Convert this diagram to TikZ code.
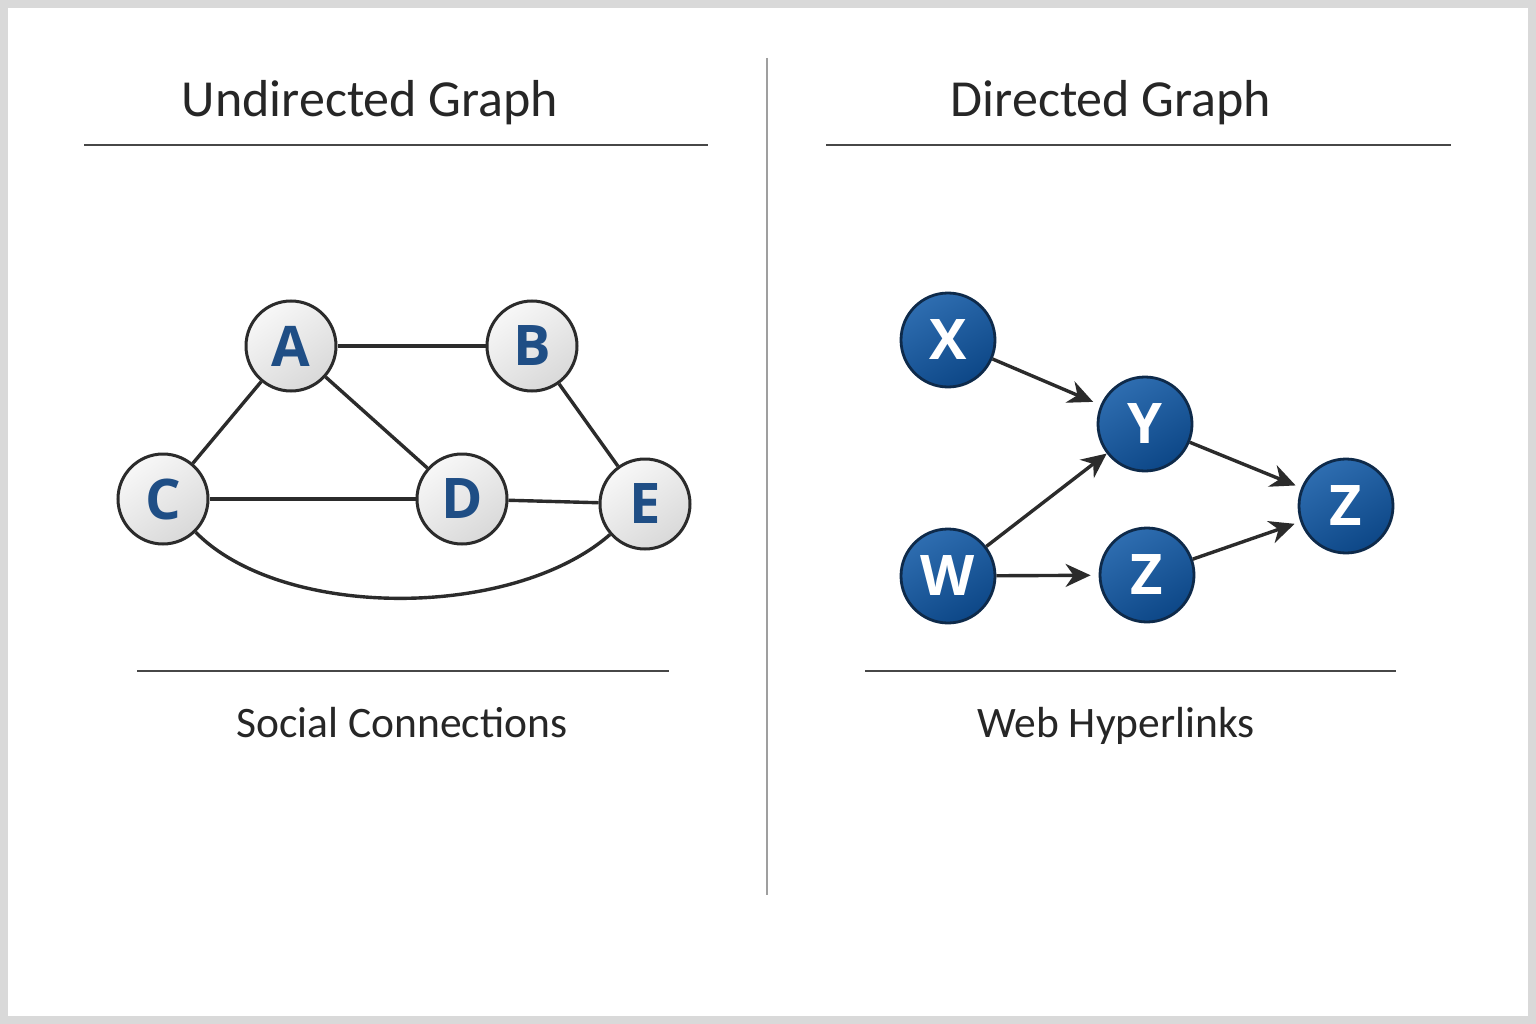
\documentclass[tikz,border=0pt]{standalone}
\usepackage{fontspec}
\setmainfont{Carlito}
\newfontfamily\nodefont{Open Sans}
\usetikzlibrary{arrows.meta}
\definecolor{ink}{HTML}{262626}
\definecolor{edge}{HTML}{2B2B2B}
\definecolor{letterblue}{HTML}{1F4E85}
\definecolor{nodeblueA}{HTML}{2E6DB0}
\definecolor{nodeblueB}{HTML}{0D4787}
\definecolor{blueborder}{HTML}{0E2A4A}
\definecolor{frame}{HTML}{D9D9D9}
\tikzset{
  lightnode/.style={circle, draw=edge, line width=3pt, minimum size=90pt, inner sep=0pt,
    top color=white!94!gray, bottom color=gray!30, shading angle=35,
    font=\nodefont\bfseries\fontsize{56}{56}\selectfont, text=letterblue},
  bluenode/.style={circle, draw=blueborder, line width=2.8pt, minimum size=94pt, inner sep=0pt,
    top color=nodeblueA, bottom color=nodeblueB, shading angle=30,
    font=\nodefont\bfseries\fontsize{56}{56}\selectfont, text=white},
  uedge/.style={draw=edge, line width=3.4pt},
  dedge/.style={draw=edge, line width=3.4pt, -{Stealth[length=25pt,width=23pt,inset=8pt]}, shorten >=6pt},
  title/.style={font=\fontsize{52}{52}\selectfont, text=ink, anchor=base},
  caption/.style={font=\fontsize{43.5}{43.5}\selectfont, text=ink, anchor=base},
  rule/.style={draw=ink!85, line width=1.8pt},
}
\begin{document}
\begin{tikzpicture}[x=1pt,y=-1pt]
\useasboundingbox (0,0) rectangle (1536,1024);
\fill[frame] (0,0) rectangle (1536,1024);
\fill[white] (8,8) rectangle (1528,1016);

% divider
\draw[draw=gray!75, line width=2.2pt] (767,58) -- (767,895);

% titles
\node[title] (t1) at (370,117) {Undirected Graph};
\node[title] (t2) at (1111,117) {Directed Graph};
\draw[rule] (84,145) -- (708,145);
\draw[rule] (826,145) -- (1451,145);
\draw[rule] (137,671) -- (669,671);
\draw[rule] (865,671) -- (1396,671);
\node[caption] (c1) at (402,737) {Social Connections};
\node[caption] (c2) at (1116,737) {Web Hyperlinks};

% undirected graph
\node[lightnode] (A) at (291,346) {A};
\node[lightnode] (B) at (532,346) {B};
\node[lightnode] (C) at (163,499) {C};
\node[lightnode] (D) at (462,499) {D};
\node[lightnode] (E) at (645,504) {E};
\draw[uedge] (A) -- (B);
\draw[uedge] (A) -- (C);
\draw[uedge] (A) -- (D);
\draw[uedge] (B) -- (E);
\draw[uedge] (C) -- (D);
\draw[uedge] (D) -- (E);
\draw[uedge] (C) .. controls (282,620) and (512,620) .. (E);

% directed graph
\node[bluenode] (X) at (948,340) {X};
\node[bluenode] (Y) at (1145,424) {Y};
\node[bluenode] (W) at (948,576) {W};
\node[bluenode] (Z1) at (1147,575) {Z};
\node[bluenode] (Z2) at (1346,506) {Z};
\draw[dedge, shorten >=8pt] (X) -- (Y);
\draw[dedge, shorten >=0pt] (W) -- (Y);
\draw[dedge, shorten >=8pt] (W) -- (Z1);
\draw[dedge] (Y) -- (Z2);
\draw[dedge] (Z1) -- (Z2);
\end{tikzpicture}
\end{document}
